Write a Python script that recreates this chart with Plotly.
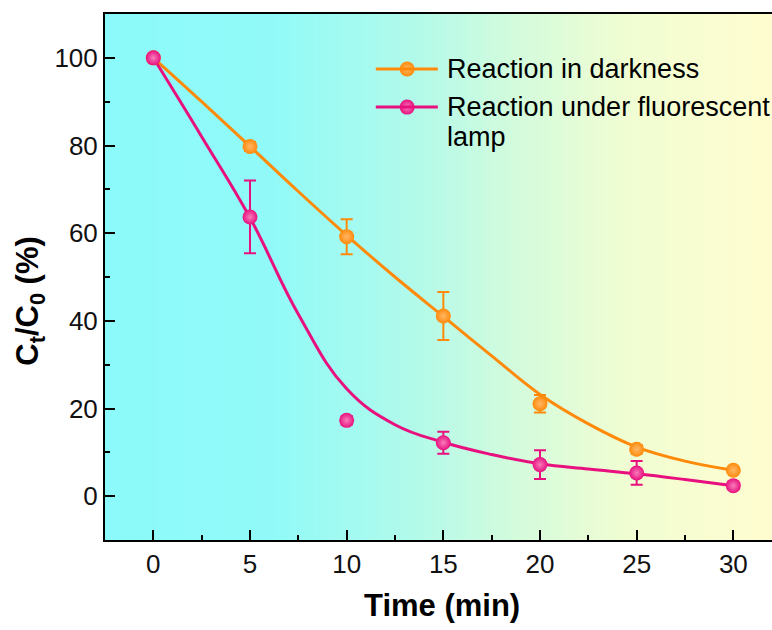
import plotly.graph_objects as go

# ---- data ----
time = [0, 5, 10, 15, 20, 25, 30]
dark = [100, 79.8, 59.2, 41.1, 21.1, 10.7, 5.9]
dark_err = [0.6, 1.0, 4.0, 5.5, 2.0, 1.0, 0.6]
lamp = [100, 63.7, 17.3, 12.2, 7.2, 5.3, 2.4]
lamp_err = [0.6, 8.3, 1.0, 2.5, 3.3, 2.7, 0.8]

fit_t = [0, 2.5, 5, 7.5, 10, 12.5, 15, 17.5, 20, 22.5, 25, 27.5, 30]
dark_fit = [100, 90, 79.8, 69.5, 59.5, 50, 41, 32, 23.2, 16.5, 11.2, 8.0, 5.9]
lamp_fit = [100, 82, 63.5, 41.5, 24.5, 16.3, 12.3, 9.5, 7.4, 6.2, 5.1, 3.8, 2.4]

x_ticks = [0, 5, 10, 15, 20, 25, 30]
y_ticks = [0, 20, 40, 60, 80, 100]

ORANGE = "#FF8A0A"
PINK = "#E8107F"
ORANGE_HI = "#FFB766"
PINK_HI = "#F77DBB"
FONT = "Liberation Sans, Arial, sans-serif"

fig = go.Figure()

# background gradient (cyan -> light yellow) as thin strips
stops = [(0.0, (140, 250, 250)), (0.25, (145, 250, 248)), (0.45, (175, 250, 235)),
         (0.62, (212, 251, 220)), (0.78, (240, 253, 210)), (1.0, (255, 253, 208))]
N = 90
shapes = []
for i in range(N):
    f = (i + 0.5) / N
    for j in range(len(stops) - 1):
        if stops[j][0] <= f <= stops[j + 1][0]:
            a, ca = stops[j]
            b, cb = stops[j + 1]
            t = (f - a) / (b - a)
            c = tuple(round(ca[k] + (cb[k] - ca[k]) * t) for k in range(3))
            break
    shapes.append(dict(type="rect", xref="paper", yref="paper", x0=i / N, x1=(i + 1.6) / N,
                       y0=0, y1=1, fillcolor="rgb(%d,%d,%d)" % c, line=dict(width=0),
                       layer="below"))

# fitted curves
fig.add_trace(go.Scatter(x=fit_t, y=dark_fit, mode="lines",
                         line=dict(color=ORANGE, width=3, shape="spline", smoothing=1.1),
                         showlegend=False, hoverinfo="skip"))
fig.add_trace(go.Scatter(x=fit_t, y=lamp_fit, mode="lines",
                         line=dict(color=PINK, width=3, shape="spline", smoothing=1.2),
                         showlegend=False, hoverinfo="skip"))

# data points with error bars
fig.add_trace(go.Scatter(x=time, y=dark, mode="markers", name="Reaction in darkness",
                         marker=dict(size=15, color=ORANGE, gradient=dict(type="radial", color=ORANGE_HI), line=dict(width=0)),
                         error_y=dict(type="data", array=dark_err, color=ORANGE, thickness=2, width=6),
                         showlegend=False))
fig.add_trace(go.Scatter(x=time, y=lamp, mode="markers", name="Reaction under fluorescent lamp",
                         marker=dict(size=15, color=PINK, gradient=dict(type="radial", color=PINK_HI), line=dict(width=0)),
                         error_y=dict(type="data", array=lamp_err, color=PINK, thickness=2, width=6),
                         showlegend=False))

# manual legend
leg_y = [0.8954, 0.823]
leg_cols = [ORANGE, PINK]
leg_grad = [ORANGE_HI, PINK_HI]
for yy, col in zip(leg_y, leg_cols):
    shapes.append(dict(type="line", xref="paper", yref="paper", x0=0.406, x1=0.499, y0=yy, y1=yy,
                       line=dict(color=col, width=3)))
for yy, col, g in zip(leg_y, leg_cols, leg_grad):
    fig.add_trace(go.Scatter(x=[0.453], y=[yy], xaxis="x2", yaxis="y2", mode="markers",
                             marker=dict(size=15, color=col, gradient=dict(type="radial", color=g)),
                             showlegend=False, hoverinfo="skip"))

LEG_FONT = dict(family=FONT, size=27, color="black")
annotations = [
    dict(text="Reaction in darkness", xref="paper", yref="paper", x=0.509, y=0.8954,
         xanchor="left", yanchor="middle", showarrow=False, font=LEG_FONT),
    dict(text="Reaction under fluorescent", xref="paper", yref="paper", x=0.509, y=0.823,
         xanchor="left", yanchor="middle", showarrow=False, font=LEG_FONT),
    dict(text="lamp", xref="paper", yref="paper", x=0.509, y=0.766,
         xanchor="left", yanchor="middle", showarrow=False, font=LEG_FONT),
    dict(text="<b>Time (min)</b>", xref="paper", yref="paper", x=0.505, y=-0.124,
         xanchor="center", yanchor="middle", showarrow=False, font=dict(family=FONT, size=31, color="black")),
    dict(text="<b>C<sub>t</sub>/C<sub>0</sub> (%)</b>", xref="paper", yref="paper", x=-0.1124, y=0.455,
         xanchor="center", yanchor="middle", textangle=-90, showarrow=False,
         font=dict(family=FONT, size=31, color="black")),
]

TICK_FONT = dict(size=26, family=FONT, color="#111")
fig.update_layout(
    width=772, height=630,
    margin=dict(l=105, r=0, t=14, b=90),
    paper_bgcolor="white", plot_bgcolor="rgb(140,250,250)",
    shapes=shapes, annotations=annotations,
    font=dict(family=FONT, color="black"),
    xaxis=dict(range=[-2.5, 32.0], tickvals=x_ticks, ticks="inside", ticklen=10, tickwidth=2,
               tickcolor="black", showline=True, linewidth=2, linecolor="black", mirror=True,
               showgrid=False, zeroline=False, tickfont=TICK_FONT,
               minor=dict(ticks="inside", ticklen=5, tickwidth=2, tickcolor="black", dtick=2.5, tick0=0, showgrid=False)),
    yaxis=dict(range=[-10, 110], tickvals=y_ticks, ticks="inside", ticklen=10, tickwidth=2,
               tickcolor="black", showline=True, linewidth=2, linecolor="black", mirror=False,
               showgrid=False, zeroline=False, tickfont=TICK_FONT,
               minor=dict(ticks="inside", ticklen=5, tickwidth=2, tickcolor="black", dtick=10, tick0=0, showgrid=False)),
    xaxis2=dict(range=[0, 1], overlaying="x", visible=False, anchor="y2"),
    yaxis2=dict(range=[0, 1], overlaying="y", visible=False, anchor="x2"),
)

fig.write_html("out.html")
